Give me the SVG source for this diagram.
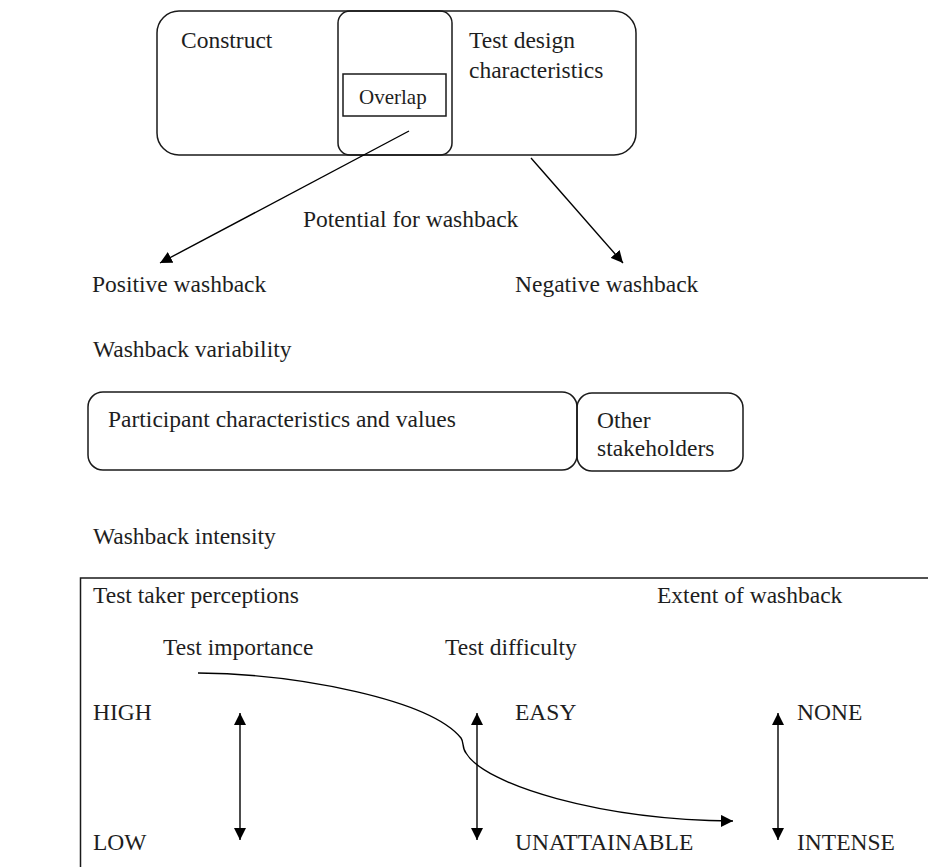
<svg xmlns="http://www.w3.org/2000/svg" width="928" height="867" viewBox="0 0 928 867">
<style>
  text { font-family: "Liberation Serif", "Times New Roman", serif; font-size: 23.5px; fill: #1e1e1e; }
  .box { fill: none; stroke: #1a1a1a; stroke-width: 1.5; }
  .ln { fill: none; stroke: #000; stroke-width: 1.4; }
  .small { font-size: 21px; }
</style>
<defs>
  <marker id="ah" markerUnits="userSpaceOnUse" markerWidth="12" markerHeight="12" refX="12" refY="6" orient="auto-start-reverse" viewBox="0 0 12 12">
    <path d="M0,0 L12,6 L0,12 z" fill="#000"/>
  </marker>
</defs>
<rect width="928" height="867" fill="#fff"/>

<g id="construct">
  <rect class="box" x="157" y="11" width="479" height="144" rx="22" ry="22"/>
  <text x="181" y="48">Construct</text>
  <text x="469" y="48">Test design</text>
  <text x="469" y="78">characteristics</text>
</g>
<g id="middle">
  <rect class="box" x="338" y="11" width="114" height="144" rx="12" ry="12"/>
</g>
<g id="overlap">
  <rect class="box" x="343" y="74" width="103" height="42"/>
  <text class="small" x="359" y="104">Overlap</text>
</g>

<g id="potential">
  <text x="303" y="227">Potential for washback</text>
</g>
<g id="positive">
  <text x="92" y="292">Positive washback</text>
</g>
<g id="negative">
  <text x="515" y="292">Negative washback</text>
</g>

<g id="variability">
  <text x="93" y="357">Washback variability</text>
</g>
<g id="participant">
  <rect class="box" x="88" y="392" width="489" height="78" rx="15" ry="15"/>
  <text x="108" y="427">Participant characteristics and values</text>
</g>
<g id="stakeholders">
  <rect class="box" x="577" y="393" width="166" height="78" rx="15" ry="15"/>
  <text x="597" y="428">Other</text>
  <text x="597" y="456">stakeholders</text>
</g>

<g id="intensity-title">
  <text x="93" y="544">Washback intensity</text>
</g>
<g id="intensity-panel">
  <rect class="box" x="80.5" y="578" width="900" height="400"/>
  <text x="93" y="603">Test taker perceptions</text>
  <text x="657" y="603">Extent of washback</text>
  <text x="163" y="655">Test importance</text>
  <text x="445" y="655">Test difficulty</text>
  <text x="93" y="720">HIGH</text>
  <text x="93" y="850">LOW</text>
  <text x="515" y="720">EASY</text>
  <text x="515" y="850">UNATTAINABLE</text>
  <text x="797" y="720">NONE</text>
  <text x="797" y="850">INTENSE</text>
</g>

<g id="connectors">
  <line class="ln" x1="409" y1="131" x2="160" y2="263" marker-end="url(#ah)"/>
  <line class="ln" x1="531" y1="158" x2="623" y2="263" marker-end="url(#ah)"/>
  <line class="ln" x1="240" y1="713" x2="240" y2="840" marker-start="url(#ah)" marker-end="url(#ah)"/>
  <line class="ln" x1="477" y1="713" x2="477" y2="840" marker-start="url(#ah)" marker-end="url(#ah)"/>
  <line class="ln" x1="778" y1="713" x2="778" y2="840" marker-start="url(#ah)" marker-end="url(#ah)"/>
  <path class="ln" d="M198,673 C300,674 430,700 461,738 C464,742 462,748 466,753 C485,785 600,820 733,821" marker-end="url(#ah)"/>
</g>
</svg>
